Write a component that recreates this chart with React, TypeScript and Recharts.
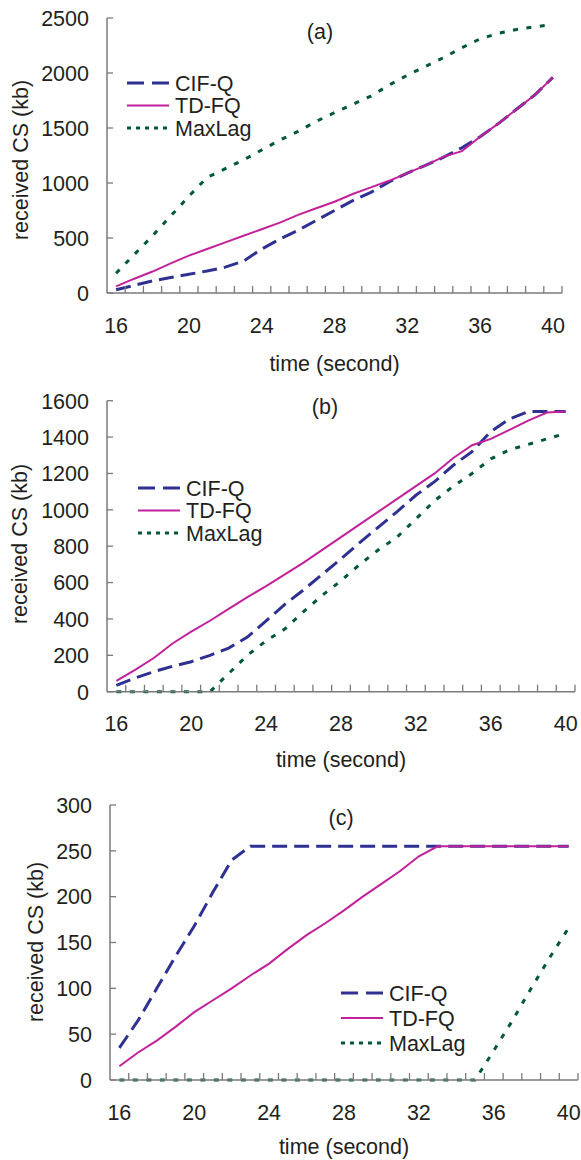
import React from 'react';
import { LineChart, Line, XAxis, YAxis, Legend } from 'recharts';

// time categories (seconds)
const seconds = [16, 17, 18, 19, 20, 21, 22, 23, 24, 25, 26, 27, 28, 29, 30, 31, 32, 33, 34, 35, 36, 37, 38, 39, 40];
const xLabelTicks = [16, 20, 24, 28, 32, 36, 40];
// excel style tick marks sit between the categories
const xMinorTicks = [16.5, 17.5, 18.5, 19.5, 20.5, 21.5, 22.5, 23.5, 24.5, 25.5, 26.5, 27.5, 28.5, 29.5, 30.5, 31.5, 32.5, 33.5, 34.5, 35.5, 36.5, 37.5, 38.5, 39.5, 40.5];

// (a)
const cifqA = [30, 70, 110, 140, 170, 200, 235, 290, 400, 490, 570, 660, 750, 840, 915, 1010, 1090, 1160, 1235, 1320, 1420, 1540, 1670, 1800, 1960];
const tdfqA = [60, 130, 195, 270, 340, 400, 460, 520, 580, 640, 710, 770, 830, 900, 960, 1020, 1090, 1160, 1240, 1290, 1420, 1540, 1670, 1800, 1960];
const maxlagA = [180, 350, 520, 700, 880, 1050, 1130, 1210, 1300, 1390, 1470, 1560, 1640, 1715, 1790, 1890, 1980, 2060, 2140, 2230, 2310, 2360, 2395, 2420, 2440];
const yTicksA = [0, 500, 1000, 1500, 2000, 2500];

// (b)
const cifqB = [35, 75, 110, 140, 165, 200, 240, 300, 390, 480, 560, 645, 730, 820, 905, 990, 1080, 1155, 1245, 1320, 1430, 1500, 1540, 1540, 1540];
const tdfqB = [60, 120, 185, 265, 330, 390, 455, 520, 580, 645, 710, 780, 850, 920, 990, 1060, 1130, 1200, 1285, 1355, 1390, 1440, 1490, 1535, 1540];
const maxlagB = [0, 0, 0, 0, 0, 0, 100, 200, 280, 345, 440, 530, 610, 700, 780, 850, 950, 1050, 1130, 1200, 1280, 1330, 1360, 1390, 1420];
const yTicksB = [0, 200, 400, 600, 800, 1000, 1200, 1400, 1600];

// (c)
const cifqC = [35, 65, 100, 135, 168, 205, 240, 255, 255, 255, 255, 255, 255, 255, 255, 255, 255, 255, 255, 255, 255, 255, 255, 255, 255];
const tdfqC = [15, 30, 43, 58, 74, 87, 100, 114, 127, 143, 158, 171, 185, 200, 214, 228, 244, 255, 255, 255, 255, 255, 255, 255, 255];
const maxlagC = [0, 0, 0, 0, 0, 0, 0, 0, 0, 0, 0, 0, 0, 0, 0, 0, 0, 0, 0, 0, 32, 65, 100, 134, 166];
const yTicksC = [0, 50, 100, 150, 200, 250, 300];

const seriesKeys = ['cifq', 'tdfq', 'maxlag'];
const seriesNames = ['CIF-Q', 'TD-FQ', 'MaxLag'];

const FONT = 'Liberation Sans, Arial, Helvetica, sans-serif';
const TEXT = '#231f20';
const AXIS = '#7a7a7a';

const seriesStyle: Record<string, { stroke: string; width: number; dash?: string; legendDash?: string }> = {
    cifq: { stroke: '#2e3192', width: 3, dash: '15 7', legendDash: '17 8' },
    tdfq: { stroke: '#c2219b', width: 2 },
    maxlag: { stroke: '#00573d', width: 3, dash: '5 8.5', legendDash: '4 5' },
};

function buildRows(cifq: number[], tdfq: number[], maxlag: number[]) {
    return seconds.map((t, i) => ({ t, cifq: cifq[i], tdfq: tdfq[i], maxlag: maxlag[i] }));
}

const panels = [
    {
        id: 'a',
        rows: buildRows(cifqA, tdfqA, maxlagA),
        yTicks: yTicksA,
        height: 380,
        margin: { top: 18, right: 19, bottom: 0, left: 0 },
        yWidth: 107,
        xHeight: 87,
        xTitleY: 371,
        yTitle: { x: 28, y: 160 },
        tag: { x: 320, y: 39 },
        legend: { left: 127, top: 72, gap: 22.5 },
    },
    {
        id: 'b',
        rows: buildRows(cifqB, tdfqB, maxlagB),
        yTicks: yTicksB,
        height: 400,
        margin: { top: 20.7, right: 6, bottom: 0, left: 0 },
        yWidth: 107,
        xHeight: 88.3,
        xTitleY: 386.5,
        yTitle: { x: 26.5, y: 164 },
        tag: { x: 325, y: 34 },
        legend: { left: 138, top: 97, gap: 22.5 },
    },
    {
        id: 'c',
        rows: buildRows(cifqC, tdfqC, maxlagC),
        yTicks: yTicksC,
        height: 380,
        margin: { top: 25, right: 3, bottom: 0, left: 0 },
        yWidth: 110,
        xHeight: 80,
        xTitleY: 374,
        yTitle: { x: 42.5, y: 162 },
        tag: { x: 341, y: 45 },
        legend: { left: 341, top: 202, gap: 25 },
    },
];

const XTick = (props: any) => {
    const { x, y, payload } = props;
    const v = payload.value;
    if (xLabelTicks.includes(v)) {
        return (
            <text x={x} y={y + 39.5} textAnchor="middle" fontFamily={FONT} fontSize={21.5} fill={TEXT}>
                {v}
            </text>
        );
    }
    return <line x1={x} x2={x} y1={y} y2={y - 7} stroke={AXIS} strokeWidth={1.3} />;
};

const YTick = (props: any) => {
    const { x, y, payload } = props;
    return (
        <g>
            <line x1={x} x2={x + 6} y1={y} y2={y} stroke={AXIS} strokeWidth={1.3} />
            <text x={x - 18} y={y + 7.8} textAnchor="end" fontFamily={FONT} fontSize={21.5} fill={TEXT}>
                {payload.value}
            </text>
        </g>
    );
};

function makeLegend(gap: number) {
    return (props: any) => {
        const items = [...(props.payload || [])].sort(
            (a: any, b: any) => seriesKeys.indexOf(a.dataKey) - seriesKeys.indexOf(b.dataKey)
        );
        return (
            <svg width={160} height={gap * 2 + 24} style={{ display: 'block', overflow: 'visible' }}>
                {items.map((item: any, i: number) => {
                    const st = seriesStyle[item.dataKey];
                    const cy = 11 + i * gap;
                    return (
                        <g key={item.dataKey}>
                            <line
                                x1={0}
                                x2={42}
                                y1={cy}
                                y2={cy}
                                stroke={st.stroke}
                                strokeWidth={st.width}
                                strokeDasharray={st.legendDash}
                            />
                            <text x={48} y={cy + 7.8} fontFamily={FONT} fontSize={21.5} fill={TEXT}>
                                {item.value}
                            </text>
                        </g>
                    );
                })}
            </svg>
        );
    };
}

function Panel({ p }: { p: (typeof panels)[number] }) {
    const yMax = p.yTicks[p.yTicks.length - 1];
    const plotLeft = p.yWidth + p.margin.left;
    const plotRight = 581 - p.margin.right;
    return (
        <LineChart width={581} height={p.height} data={p.rows} margin={p.margin}>
            <XAxis
                dataKey="t"
                type="number"
                domain={[15.5, 40.5]}
                ticks={[...xLabelTicks, ...xMinorTicks].sort((a, b) => a - b)}
                interval={0}
                height={p.xHeight}
                tickSize={0}
                tickMargin={0}
                tickLine={false}
                tick={<XTick />}
                axisLine={{ stroke: AXIS, strokeWidth: 1.5 }}
            />
            <YAxis
                type="number"
                domain={[0, yMax]}
                ticks={p.yTicks}
                interval={0}
                width={p.yWidth}
                tickSize={0}
                tickMargin={0}
                tickLine={false}
                tick={<YTick />}
                axisLine={{ stroke: AXIS, strokeWidth: 1.5 }}
            />
            {seriesKeys.map((k, i) => (
                <Line
                    key={k}
                    type="linear"
                    dataKey={k}
                    name={seriesNames[i]}
                    stroke={seriesStyle[k].stroke}
                    strokeWidth={seriesStyle[k].width}
                    strokeDasharray={seriesStyle[k].dash}
                    dot={false}
                    activeDot={false}
                    isAnimationActive={false}
                />
            ))}
            <Legend
                layout="vertical"
                align="center"
                verticalAlign="middle"
                content={makeLegend(p.legend.gap)}
                wrapperStyle={{ left: p.legend.left, top: p.legend.top, width: 160, height: 'auto' }}
            />
            <text x={p.tag.x} y={p.tag.y} textAnchor="middle" fontFamily={FONT} fontSize={21.5} fill={TEXT}>
                ({p.id})
            </text>
            <text
                x={(plotLeft + plotRight) / 2}
                y={p.xTitleY}
                textAnchor="middle"
                fontFamily={FONT}
                fontSize={21.5}
                fill={TEXT}
            >
                time (second)
            </text>
            <text
                x={p.yTitle.x}
                y={p.yTitle.y}
                textAnchor="middle"
                transform={`rotate(-90 ${p.yTitle.x} ${p.yTitle.y})`}
                fontFamily={FONT}
                fontSize={21.5}
                fill={TEXT}
            >
                received CS (kb)
            </text>
        </LineChart>
    );
}

export default function App() {
    return (
        <div style={{ position: 'absolute', left: 0, top: 0, width: 581, height: 1160, background: '#fff' }}>
            {panels.map((p) => (
                <Panel key={p.id} p={p} />
            ))}
        </div>
    );
}
